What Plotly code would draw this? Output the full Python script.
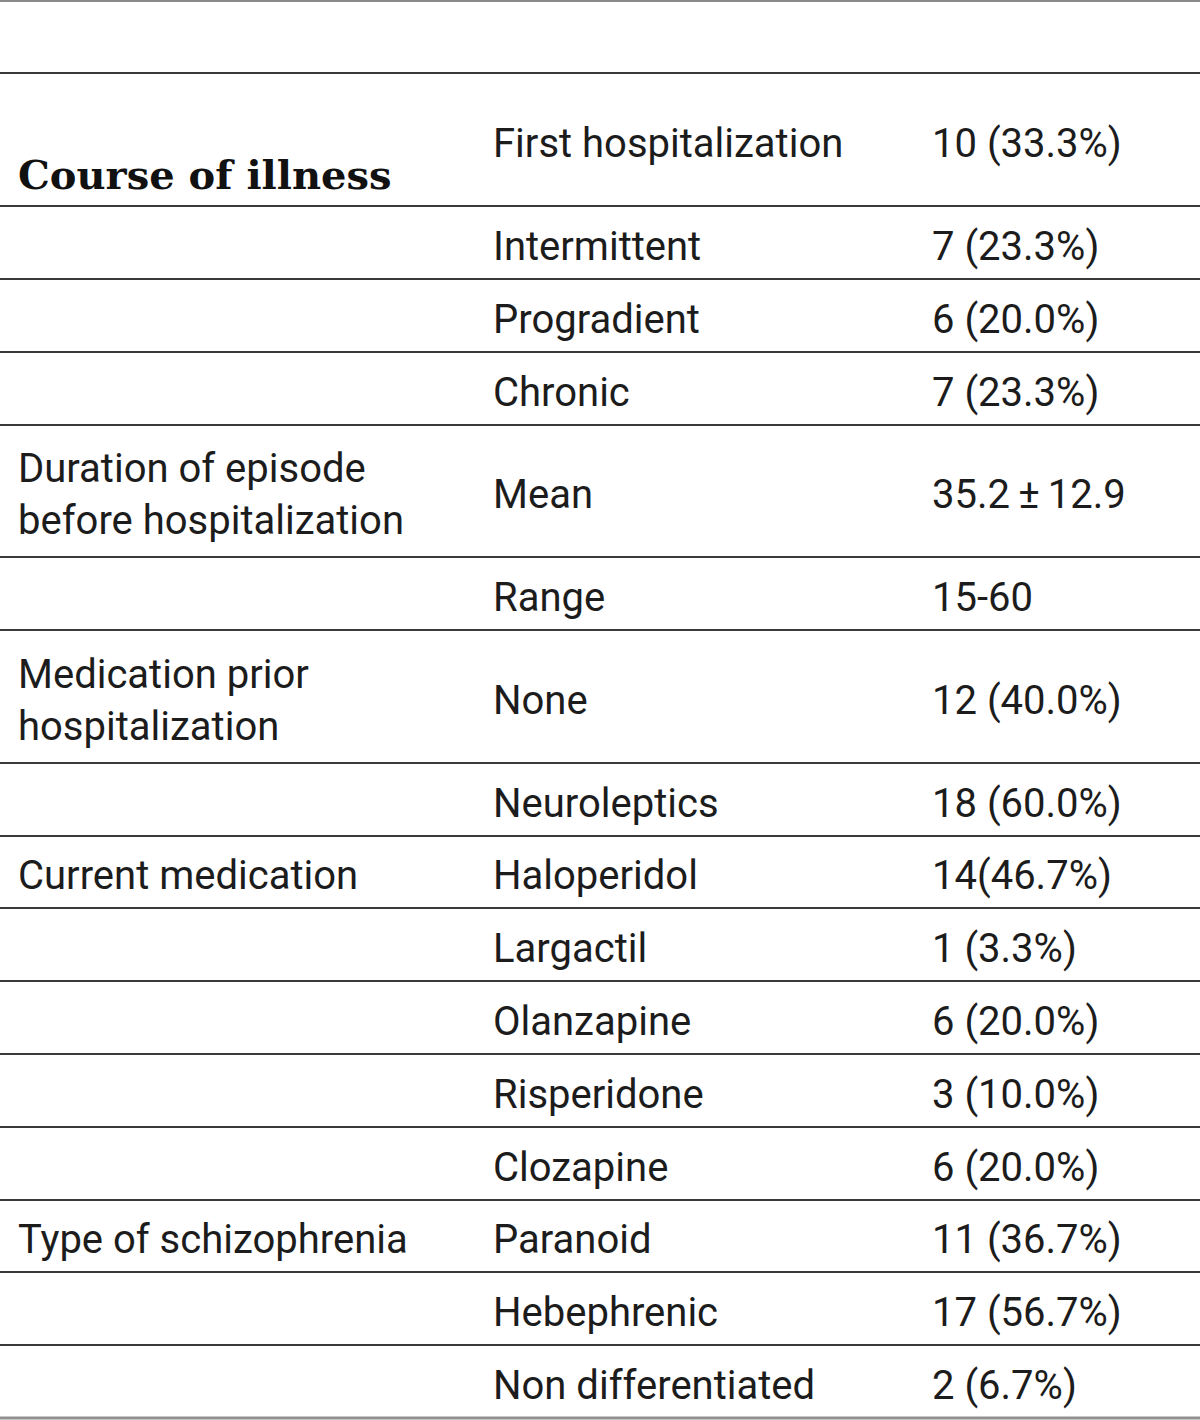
import plotly.graph_objects as go

# ---- data ----
groups = [
    "Course of illness", "", "", "",
    "Duration of episode<br>before hospitalization", "",
    "Medication prior<br>hospitalization", "",
    "Current medication", "", "", "", "",
    "Type of schizophrenia", "", "",
]
items = [
    "First hospitalization", "Intermittent", "Progradient", "Chronic",
    "Mean", "Range",
    "None", "Neuroleptics",
    "Haloperidol", "Largactil", "Olanzapine", "Risperidone", "Clozapine",
    "Paranoid", "Hebephrenic", "Non differentiated",
]
values = [
    "10 (33.3%)", "7 (23.3%)", "6 (20.0%)", "7 (23.3%)",
    "35.2\u2009±\u200912.9", "15-60",
    "12 (40.0%)", "18 (60.0%)",
    "14(46.7%)", "1 (3.3%)", "6 (20.0%)", "3 (10.0%)", "6 (20.0%)",
    "11 (36.7%)", "17 (56.7%)", "2 (6.7%)",
]

# ---- layout constants ----
W, H = 1200, 1420
header_top, header_bottom = 1, 73
row_heights = [133, 73, 73, 73, 132, 73, 133, 73, 72, 73, 73, 73, 73, 72, 73, 73]
col_x = [18, 493, 932]
TEXT_FONT = "Roboto"
TEXT_SIZE = 40
TEXT_COLOR = "#1c1c1c"

bounds = [header_bottom]
for h in row_heights:
    bounds.append(bounds[-1] + h)
centers = [(bounds[i] + bounds[i + 1]) / 2 + 7 for i in range(len(row_heights))]

fig = go.Figure()

# first column (regular labels)
reg_idx = [i for i, g in enumerate(groups) if g and i != 0]
fig.add_trace(go.Scatter(
    x=[col_x[0]] * len(reg_idx), y=[centers[i] for i in reg_idx],
    text=[groups[i] for i in reg_idx], mode="text", textposition="middle right",
    textfont=dict(family=TEXT_FONT, size=TEXT_SIZE, color=TEXT_COLOR),
    hoverinfo="skip", cliponaxis=False, showlegend=False,
))
# bold first group label
fig.add_trace(go.Scatter(
    x=[col_x[0]], y=[centers[0] + 32], text=["<b>" + groups[0] + "</b>"],
    mode="text", textposition="middle right",
    textfont=dict(family="DejaVu Serif", size=40, color="#111111"),
    hoverinfo="skip", cliponaxis=False, showlegend=False,
))
# items
fig.add_trace(go.Scatter(
    x=[col_x[1]] * len(items), y=centers[:len(items)], text=items,
    mode="text", textposition="middle right",
    textfont=dict(family=TEXT_FONT, size=TEXT_SIZE, color=TEXT_COLOR),
    hoverinfo="skip", cliponaxis=False, showlegend=False,
))
# values
fig.add_trace(go.Scatter(
    x=[col_x[2]] * len(values), y=centers[:len(values)], text=values,
    mode="text", textposition="middle right",
    textfont=dict(family=TEXT_FONT, size=TEXT_SIZE, color=TEXT_COLOR),
    hoverinfo="skip", cliponaxis=False, showlegend=False,
))

shapes = []
shapes.append(dict(type="line", xref="x", yref="y", x0=0, x1=W, y0=header_top, y1=header_top,
                   line=dict(color="#8a8a8a", width=2)))
for b in bounds[:-1]:
    shapes.append(dict(type="line", xref="x", yref="y", x0=0, x1=W, y0=b, y1=b,
                       line=dict(color="#3a3a3a", width=2)))
shapes.append(dict(type="line", xref="x", yref="y", x0=0, x1=W, y0=bounds[-1], y1=bounds[-1],
                   line=dict(color="#8f8f8f", width=3)))

fig.update_layout(
    width=W, height=H,
    margin=dict(l=0, r=0, t=0, b=0),
    paper_bgcolor="white", plot_bgcolor="white",
    xaxis=dict(range=[0, W], visible=False, fixedrange=True),
    yaxis=dict(range=[H, 0], visible=False, fixedrange=True),
    shapes=shapes,
)

fig.write_html(
    "out.html",
    config={"displayModeBar": False, "responsive": False},
    post_script="document.body.style.margin='0';document.body.style.overflow='hidden';",
)
